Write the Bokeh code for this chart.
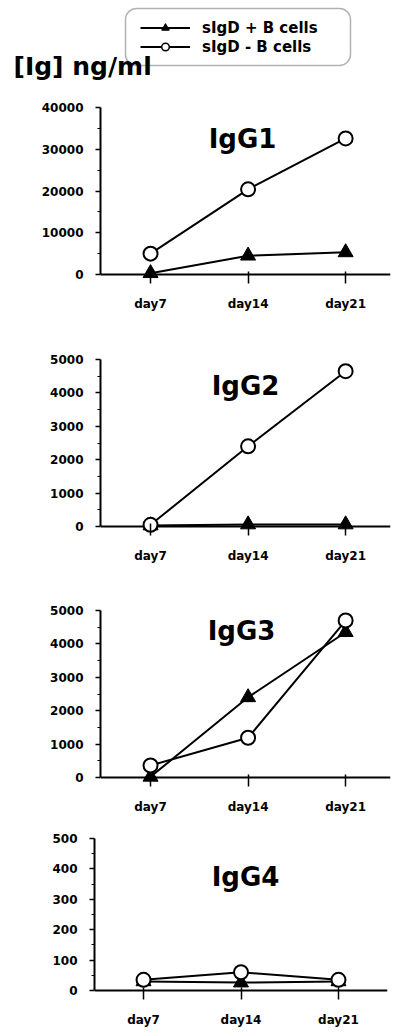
from bokeh.plotting import figure
from bokeh.layouts import column, row
from bokeh.models import (Range1d, FixedTicker, Label, Legend, LegendItem, Span,
                          ColumnDataSource, PrintfTickFormatter, BoxAnnotation)
from bokeh.embed import file_html
from bokeh.resources import INLINE

# ---------------- data ----------------
days = ["day7", "day14", "day21"]
panel_names = ["IgG1", "IgG2", "IgG3", "IgG4"]
igg1_pos = [300, 4500, 5300]
igg1_neg = [5000, 20400, 32600]
igg2_pos = [30, 60, 60]
igg2_neg = [50, 2400, 4650]
igg3_pos = [20, 2400, 4350]
igg3_neg = [360, 1190, 4700]
igg4_pos = [30, 26, 30]
igg4_neg = [35, 60, 35]
y_tops = [40000, 5000, 5000, 500]
y_steps = [10000, 1000, 1000, 100]
legend_labels = ["sIgD + B cells", "sIgD - B cells"]
y_title = "[Ig] ng/ml"

FONT = "DejaVu Sans"
BLACK = "black"
ZERO_PX = 9
HDR_H = 84


def make_panel(name, pos, neg, top, step, frame_w, frame_h, b_left, b_top, b_bottom,
               x_lo, x_hi, title_x, title_y):
    ystart = -top * ZERO_PX / (frame_h - ZERO_PX)
    p = figure(frame_width=frame_w, frame_height=frame_h,
               x_range=Range1d(x_lo, x_hi), y_range=Range1d(ystart, top),
               min_border_left=b_left, min_border_right=5,
               min_border_top=b_top, min_border_bottom=b_bottom,
               toolbar_location=None, output_backend="svg")
    p.xgrid.visible = False
    p.ygrid.visible = False
    p.outline_line_color = None

    # x axis line at y = 0
    p.add_layout(Span(location=0, dimension="width", line_color=BLACK,
                      line_width=2, level="underlay"))

    xa = p.xaxis[0]
    xa.ticker = FixedTicker(ticks=list(range(len(days))), minor_ticks=[])
    xa.major_label_overrides = {i: d for i, d in enumerate(days)}
    xa.axis_line_color = None
    xa.major_tick_line_width = 1.5
    xa.major_tick_line_color = BLACK
    xa.major_tick_out = 0
    xa.major_tick_in = ZERO_PX + 3
    xa.minor_tick_line_color = None
    xa.major_label_standoff = 13
    xa.major_label_text_font = FONT
    xa.major_label_text_font_style = "bold"
    xa.major_label_text_font_size = "12px"
    xa.major_label_text_color = BLACK

    ya = p.yaxis[0]
    ticks = list(range(0, top + 1, step))
    minors = [t + step // 2 for t in ticks[:-1]]
    ya.ticker = FixedTicker(ticks=ticks, minor_ticks=minors)
    ya.formatter = PrintfTickFormatter(format="%d")
    ya.bounds = (0, top)
    ya.axis_line_width = 2
    ya.axis_line_color = BLACK
    ya.major_tick_line_width = 1.5
    ya.major_tick_line_color = BLACK
    ya.major_tick_out = 5
    ya.major_tick_in = 0
    ya.minor_tick_line_color = BLACK
    ya.minor_tick_line_width = 1
    ya.minor_tick_out = 3
    ya.minor_tick_in = 0
    ya.major_label_standoff = 12
    ya.major_label_text_font = FONT
    ya.major_label_text_font_style = "bold"
    ya.major_label_text_font_size = "12px"
    ya.major_label_text_color = BLACK

    src = ColumnDataSource(dict(x=list(range(len(days))), pos=pos, neg=neg))
    p.line("x", "neg", source=src, line_color=BLACK, line_width=2)
    p.line("x", "pos", source=src, line_color=BLACK, line_width=2)
    p.scatter("x", "pos", source=src, marker="triangle", size=15,
              fill_color=BLACK, line_color=BLACK, line_width=1)
    p.scatter("x", "neg", source=src, marker="circle", size=14,
              fill_color="white", line_color=BLACK, line_width=2)

    p.add_layout(Label(x=title_x, y=title_y, x_units="screen", y_units="screen",
                       text=name, text_font=FONT, text_font_style="bold",
                       text_font_size="26px", text_color=BLACK,
                       text_align="center", text_baseline="alphabetic"))
    return p


# ---------------- header: legend and unit label ----------------
hdr = figure(frame_width=395, frame_height=HDR_H, min_border=0,
             x_range=Range1d(10, 11), y_range=Range1d(0, 1),
             x_axis_type=None, y_axis_type=None,
             toolbar_location=None, output_backend="svg")
hdr.outline_line_color = None
hdr.xgrid.visible = False
hdr.ygrid.visible = False

# key renderers (their data lie outside the header's view; only the legend keys show)
key_src = ColumnDataSource(dict(x=list(range(len(days))), pos=igg1_pos, neg=igg1_neg))
k_lp = hdr.line("x", "pos", source=key_src, line_color=BLACK, line_width=2)
k_mp = hdr.scatter("x", "pos", source=key_src, marker="triangle",
                   fill_color=BLACK, line_color=BLACK)
k_ln = hdr.line("x", "neg", source=key_src, line_color=BLACK, line_width=2)
k_mn = hdr.scatter("x", "neg", source=key_src, marker="circle", fill_color="white",
                   line_color=BLACK, line_width=1.5)

leg = Legend(items=[LegendItem(label=legend_labels[0], renderers=[k_lp, k_mp]),
                    LegendItem(label=legend_labels[1], renderers=[k_ln, k_mn])],
             location=(140, HDR_H - 56), orientation="vertical",
             glyph_width=50, glyph_height=19, spacing=0, padding=0, margin=0,
             label_standoff=12, label_height=19,
             label_text_font=FONT, label_text_font_style="bold",
             label_text_font_size="15px", label_text_color=BLACK,
             border_line_color=None, background_fill_alpha=0)
hdr.add_layout(leg)

box = BoxAnnotation(left=125, right=350, top=HDR_H - 8, bottom=HDR_H - 65,
                    left_units="screen", right_units="screen",
                    top_units="screen", bottom_units="screen",
                    fill_alpha=0, line_color=BLACK, line_width=1.5)
if "border_radius" in BoxAnnotation.properties():
    box.border_radius = 11
hdr.add_layout(box)

hdr.add_layout(Label(x=13, y=HDR_H - 66, x_units="screen", y_units="screen", text=y_title,
                     text_font=FONT, text_font_style="bold", text_font_size="25px",
                     text_color=BLACK, text_align="left", text_baseline="alphabetic"))

# ---------------- panels ----------------
p1 = make_panel(panel_names[0], igg1_pos, igg1_neg, y_tops[0], y_steps[0], 290, 176, 100,
                107 - HDR_H, 40, -0.513, 2.46, 142, 145)
p2 = make_panel(panel_names[1], igg2_pos, igg2_neg, y_tops[1], y_steps[1], 290, 176, 100,
                36, 40, -0.513, 2.46, 145, 150)
p3 = make_panel(panel_names[2], igg3_pos, igg3_neg, y_tops[2], y_steps[2], 290, 176, 100,
                35, 40, -0.513, 2.46, 141, 156)
p4 = make_panel(panel_names[3], igg4_pos, igg4_neg, y_tops[3], y_steps[3], 293, 161, 94,
                12, 30, -0.503, 2.503, 151, 123)

layout = column(row(hdr), column(p1, p2, p3, spacing=0), row(p4), spacing=0)
open("out.html", "w").write(file_html(layout, INLINE))
